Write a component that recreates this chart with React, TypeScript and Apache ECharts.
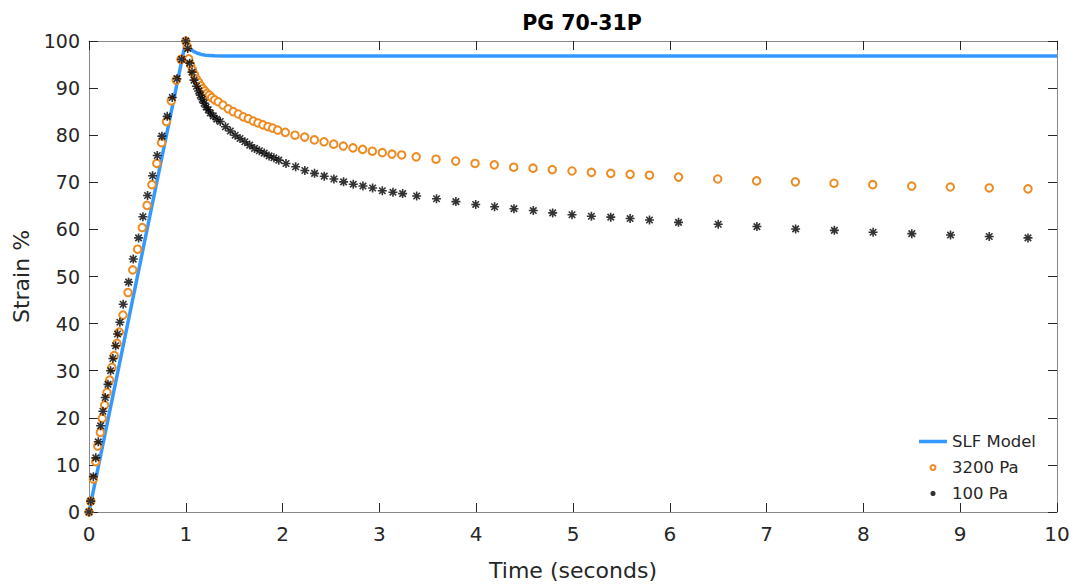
import React, { useEffect, useRef } from "react";
import * as echarts from "echarts";

const title = "PG 70-31P";
const xTicks = [0, 1, 2, 3, 4, 5, 6, 7, 8, 9, 10];
const yTicks = [0, 10, 20, 30, 40, 50, 60, 70, 80, 90, 100];

// SLF Model (time s, strain %)
const slfModel: [number, number][] = [
  [0, 0], [1, 100], [1.02, 99.1], [1.05, 98.3], [1.08, 97.8], [1.12, 97.4],
  [1.16, 97.15], [1.2, 97.0], [1.3, 96.85], [1.4, 96.8], [10, 96.8],
];

// 3200 Pa
const pa3200: [number, number][] = [
  [0, 0], [0.018, 2.3], [0.045, 7.0], [0.07, 10.7], [0.09, 14.0], [0.117, 16.9],
  [0.137, 19.9], [0.162, 22.7], [0.186, 25.4], [0.213, 28.0], [0.237, 30.7],
  [0.261, 33.2], [0.289, 35.8], [0.313, 38.2], [0.351, 41.8], [0.403, 46.6],
  [0.452, 51.4], [0.502, 55.8], [0.55, 60.4], [0.6, 65.1], [0.65, 69.5],
  [0.7, 74.0], [0.75, 78.4], [0.8, 82.9], [0.85, 87.3], [0.9, 91.7],
  [0.95, 96.1], [1.0, 100],
  [1.015, 98.8], [1.03, 96.2], [1.05, 94.9], [1.07, 93.8], [1.09, 92.8],
  [1.11, 91.9], [1.133, 91.2], [1.154, 90.5], [1.175, 89.9], [1.195, 89.4],
  [1.219, 88.9], [1.243, 88.5], [1.267, 88.0], [1.298, 87.5], [1.335, 87.1],
  [1.384, 86.4], [1.438, 85.6], [1.49, 85.0], [1.542, 84.5], [1.594, 83.9],
  [1.645, 83.5], [1.697, 83.0], [1.745, 82.6], [1.797, 82.2], [1.849, 81.8],
  [1.897, 81.5], [1.949, 81.1], [2.028, 80.6], [2.128, 80.0], [2.228, 79.6],
  [2.328, 79.0], [2.428, 78.6], [2.528, 78.1], [2.627, 77.7], [2.727, 77.3],
  [2.827, 77.0], [2.927, 76.6], [3.03, 76.3], [3.13, 76.0], [3.23, 75.8],
  [3.38, 75.4], [3.585, 74.9], [3.788, 74.5], [3.988, 74.0], [4.187, 73.7],
  [4.387, 73.2], [4.587, 73.0], [4.786, 72.7], [4.99, 72.4], [5.19, 72.1],
  [5.39, 71.9], [5.59, 71.7], [5.79, 71.5], [6.09, 71.1], [6.495, 70.7],
  [6.897, 70.3], [7.297, 70.1], [7.696, 69.8], [8.096, 69.5], [8.499, 69.2],
  [8.898, 69.0], [9.3, 68.8], [9.7, 68.6],
];

// 100 Pa
const pa100: [number, number][] = [
  [0, 0], [0.018, 2.3], [0.045, 7.5], [0.07, 11.5], [0.096, 14.9], [0.12, 18.3],
  [0.144, 21.4], [0.168, 24.3], [0.196, 27.1], [0.223, 30.0], [0.247, 32.6],
  [0.275, 35.3], [0.295, 37.8], [0.319, 40.3], [0.353, 44.1], [0.409, 48.8],
  [0.457, 53.7], [0.512, 58.2], [0.557, 62.7], [0.605, 67.2], [0.657, 71.4],
  [0.705, 75.7], [0.753, 79.8], [0.808, 84.0], [0.86, 88.0], [0.909, 92.0],
  [0.957, 96.1], [1.0, 100],
  [1.02, 98.4], [1.04, 95.3], [1.064, 93.4], [1.085, 91.7], [1.11, 90.4],
  [1.133, 89.4], [1.15, 88.5], [1.17, 87.6], [1.19, 86.8], [1.21, 86.0],
  [1.232, 85.4], [1.253, 84.7], [1.284, 84.1], [1.319, 83.4], [1.356, 82.9],
  [1.41, 81.8], [1.46, 80.9], [1.51, 80.0], [1.56, 79.3], [1.61, 78.6],
  [1.66, 77.9], [1.71, 77.2], [1.76, 76.7], [1.81, 76.2], [1.86, 75.6],
  [1.91, 75.2], [1.96, 74.7], [2.035, 74.0], [2.135, 73.3], [2.23, 72.5],
  [2.33, 71.9], [2.43, 71.3], [2.53, 70.7], [2.63, 70.1], [2.73, 69.6],
  [2.83, 69.2], [2.93, 68.8], [3.03, 68.2], [3.14, 67.9], [3.24, 67.6],
  [3.385, 67.1], [3.59, 66.5], [3.79, 65.9], [3.995, 65.3], [4.19, 64.8],
  [4.39, 64.4], [4.59, 64.0], [4.79, 63.5], [4.99, 63.1], [5.19, 62.8],
  [5.39, 62.6], [5.59, 62.3], [5.79, 62.0], [6.09, 61.5], [6.5, 61.1],
  [6.9, 60.6], [7.3, 60.1], [7.7, 59.8], [8.1, 59.4], [8.5, 59.1],
  [8.9, 58.8], [9.3, 58.5], [9.7, 58.2],
];

const seriesNames = ["SLF Model", "3200 Pa", "100 Pa"];

const FONT = "'DejaVu Sans', sans-serif";
const TXT = "#262626";
const AXIS_LINE = "#8a8a8a";
const BLUE = "#3399ff";
const ORANGE = "#ed8b22";
const ASTERISK =
  "path://M0,-5L0,5M-5,0L5,0M-3.6,-3.6L3.6,3.6M-3.6,3.6L3.6,-3.6";
const LINE_ICON = "path://M0,0L28,0L28,3.5L0,3.5Z";

export default function App() {
  const ref = useRef<HTMLDivElement>(null);
  useEffect(() => {
    if (!ref.current) return;
    const chart = echarts.init(ref.current, undefined, { renderer: "svg" });
    const xMin = xTicks[0];
    const xMax = xTicks[xTicks.length - 1];
    const yMin = yTicks[0];
    const yMax = yTicks[yTicks.length - 1];
    const baseX = {
      type: "value" as const,
      min: xMin,
      max: xMax,
      interval: 1,
      splitLine: { show: false },
      axisLine: { show: true, onZero: false, lineStyle: { color: AXIS_LINE, width: 1 } },
      axisTick: { show: true, inside: true, length: 9, lineStyle: { color: TXT, width: 1 } },
    };
    const baseY = {
      type: "value" as const,
      min: yMin,
      max: yMax,
      interval: 10,
      splitLine: { show: false },
      axisLine: { show: true, onZero: false, lineStyle: { color: AXIS_LINE, width: 1 } },
      axisTick: { show: true, inside: true, length: 9, lineStyle: { color: TXT, width: 1 } },
    };
    chart.setOption({
      animation: false,
      backgroundColor: "#ffffff",
      title: {
        text: title,
        left: 577,
        textAlign: "center",
        top: 7,
        textStyle: { fontFamily: FONT, fontSize: 20.5, fontWeight: "bold", color: "#000" },
      },
      grid: { left: 89, right: 16, top: 41, bottom: 74, containLabel: false },
      legend: {
        orient: "vertical",
        left: 914,
        top: 428,
        itemWidth: 28,
        itemHeight: 5,
        itemGap: 9,
        textStyle: { fontFamily: FONT, fontSize: 16.5, color: TXT },
        data: [
          { name: seriesNames[0], icon: LINE_ICON, itemStyle: { color: BLUE } },
          { name: seriesNames[1] },
          { name: seriesNames[2] },
        ],
      },
      xAxis: [
        {
          ...baseX,
          position: "bottom",
          name: "Time (seconds)",
          nameLocation: "middle",
          nameGap: 47,
          nameTextStyle: { fontFamily: FONT, fontSize: 22, color: TXT },
          axisLabel: { show: true, margin: 12, fontFamily: FONT, fontSize: 20, color: TXT },
        },
        { ...baseX, position: "top", axisLabel: { show: false } },
      ],
      yAxis: [
        {
          ...baseY,
          position: "left",
          name: "Strain %",
          nameLocation: "middle",
          nameGap: 50,
          nameTextStyle: { fontFamily: FONT, fontSize: 22, color: TXT },
          axisLabel: { show: true, margin: 9, fontFamily: FONT, fontSize: 19, color: TXT },
        },
        { ...baseY, position: "right", axisLabel: { show: false } },
      ],
      series: [
        {
          name: seriesNames[0],
          type: "line",
          data: slfModel,
          symbol: "none",
          lineStyle: { color: BLUE, width: 3.5 },
          itemStyle: { color: BLUE },
          z: 2,
        },
        {
          name: seriesNames[1],
          type: "scatter",
          data: pa3200,
          symbol: "emptyCircle",
          symbolSize: 7.5,
          itemStyle: { color: ORANGE, borderColor: ORANGE, borderWidth: 1.1, opacity: 1 },
          z: 3,
        },
        {
          name: seriesNames[2],
          type: "scatter",
          data: pa100,
          symbol: ASTERISK,
          symbolSize: 9,
          itemStyle: { color: "#000000", borderColor: "#000000", borderWidth: 1.6 },
          z: 4,
        },
      ],
    });
    return () => chart.dispose();
  }, []);
  return <div ref={ref} style={{ width: 1073, height: 586, position: "absolute", left: 0, top: 0 }} />;
}
